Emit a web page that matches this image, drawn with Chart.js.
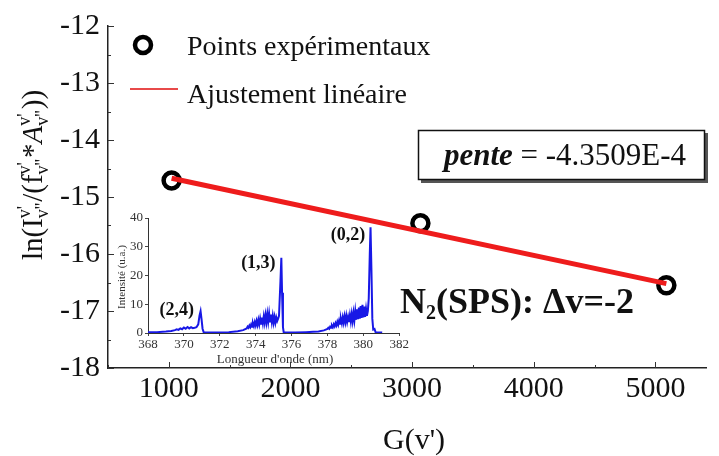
<!DOCTYPE html>
<html><head><meta charset="utf-8">
<script src="https://cdn.jsdelivr.net/npm/chart.js@4.4.1/dist/chart.umd.min.js"></script>
<style>
html,body{margin:0;padding:0;background:#fff;}
#wrap{position:relative;width:719px;height:456px;overflow:hidden;background:#fff;}
#main{position:absolute;left:0;top:0;width:719px;height:456px;}
#inset{position:absolute;left:100px;top:205px;width:310px;height:170px;}
</style></head><body>
<div id="wrap"><canvas id="main" width="719" height="456"></canvas><canvas id="inset" width="310" height="170"></canvas></div>
<script>
// ---- main chart data ----
const gValues = [1023, 3068, 5090];                 // G(v')
const lnValues = [-14.71, -15.46, -16.55];          // ln(I/(f*A))
const fitG = [1023, 5090];
const fitLn = [-14.67, -16.52];
const xTickValues = [500, 1000, 1500, 2000, 2500, 3000, 3500, 4000, 4500, 5000];
const yTickValues = [-18, -17.5, -17, -16.5, -16, -15.5, -15, -14.5, -14, -13.5, -13, -12.5, -12];
const slopeText = '-4.3509E-4';

// ---- inset spectrum data ----
const wavelength = [
  368.0, 368.5, 369.0, 369.3, 369.5, 369.6, 369.7, 369.8, 369.9, 370.0, 370.1, 370.2, 370.3, 370.4, 370.5, 370.6, 370.7, 370.8, 370.87, 370.93, 370.98, 371.04, 371.1,
  371.5, 372.0, 372.5, 373.0, 373.3,
  373.50, 373.55, 373.60, 373.65, 373.70, 373.75, 373.80, 373.85, 373.90, 373.95, 374.00, 374.05, 374.10, 374.15, 374.20, 374.25, 374.30, 374.35,
  374.40, 374.45, 374.50, 374.55, 374.60, 374.65, 374.70, 374.75, 374.80, 374.85, 374.90, 374.95, 375.00, 375.05, 375.10, 375.15, 375.20, 375.25,
  375.30, 375.38, 375.43, 375.47, 375.52, 375.56, 375.7,
  376.2, 376.8, 377.2, 377.5, 377.8,
  378.00, 378.05, 378.10, 378.15, 378.20, 378.25, 378.30, 378.35, 378.40, 378.45, 378.50, 378.55, 378.60, 378.65, 378.70, 378.75,
  378.80, 378.85, 378.90, 378.95, 379.00, 379.05, 379.10, 379.15, 379.20, 379.25, 379.30, 379.35, 379.40, 379.45, 379.50, 379.55,
  379.60, 379.65, 379.70, 379.75, 379.80, 379.85, 379.90, 379.95, 380.00, 380.05, 380.10, 380.15, 380.20, 380.25,
  380.30, 380.36, 380.40, 380.45, 380.50, 380.55, 380.62, 380.68, 381.05
];
const intensity = [
  0.3, 0.3, 0.5, 0.7, 1.0, 1.3, 1.1, 1.6, 1.3, 1.9, 1.5, 2.1, 1.6, 2.0, 1.7, 1.8, 2.0, 3.0, 6.0, 7.6, 5.0, 1.5, 0.3,
  0.2, 0.2, 0.3, 0.6, 1.0,
  1.6, 2.2, 1.8, 2.6, 2.0, 3.0, 2.2, 3.4, 2.4, 3.8, 2.6, 4.2, 2.8, 4.6, 3.0, 5.0, 3.2, 5.4,
  3.4, 5.8, 3.6, 6.2, 3.8, 6.6, 4.0, 6.8, 4.0, 6.4, 3.8, 6.0, 3.6, 5.6, 3.6, 5.4, 4.2, 5.0,
  6.0, 18, 26.2, 14, 2, 0.3, 0.2,
  0.2, 0.3, 0.4, 0.5, 0.9,
  1.4, 1.8, 1.5, 2.2, 1.8, 2.6, 2.0, 3.0, 2.3, 3.4, 2.6, 3.9, 2.9, 4.4, 3.2, 4.9,
  3.4, 5.4, 3.6, 5.8, 3.8, 6.0, 3.9, 5.6, 3.8, 6.2, 4.0, 6.6, 4.2, 7.0, 4.4, 7.6,
  4.6, 8.2, 4.8, 8.8, 5.0, 9.4, 5.2, 9.8, 5.4, 9.2, 5.6, 8.4, 6.0, 7.6,
  12, 28, 36.8, 22, 5, 1.2, 1.4, 0.3, 0.2
];
const insetXTicks = [368, 370, 372, 374, 376, 378, 380, 382];
const insetYTicks = [0, 10, 20, 30, 40];
const bandLabels = ['(2,4)', '(1,3)', '(0,2)'];
const bandLabelWl = [369.6, 374.15, 379.15];
const bandLabelInt = [8.0, 24.4, 33.8];

const SERIF = "'Liberation Serif', 'Times New Roman', serif";

// ---------- main chart ----------
const innerTicks = {
  id: 'innerTicks',
  afterDraw(chart) {
    const {ctx, scales: {x, y}, chartArea: a} = chart;
    ctx.save();
    ctx.strokeStyle = '#333'; ctx.lineWidth = 1;
    xTickValues.forEach(v => {
      const px = Math.round(x.getPixelForValue(v)) + 0.5;
      const len = v % 1000 === 0 ? 6 : 3;
      ctx.beginPath(); ctx.moveTo(px, a.bottom); ctx.lineTo(px, a.bottom - len); ctx.stroke();
    });
    yTickValues.forEach(v => {
      const py = Math.round(y.getPixelForValue(v)) + 0.5;
      const len = Number.isInteger(v) ? 6 : 3;
      ctx.beginPath(); ctx.moveTo(a.left, py); ctx.lineTo(a.left + len, py); ctx.stroke();
    });
    ctx.restore();
  }
};

function drawRich(ctx, segs, cx, baseY) {
  const big = '29px ' + SERIF, small = '18px ' + SERIF;
  let total = 0;
  segs.forEach(s => {
    if (s.t !== undefined) { ctx.font = (s.it ? 'italic ' : '') + big; s.w = ctx.measureText(s.t).width; }
    else { ctx.font = small; s.w = Math.max(ctx.measureText(s.sup).width, ctx.measureText(s.sub).width) + 1; }
    total += s.w;
  });
  let x = cx - total / 2;
  segs.forEach(s => {
    if (s.t !== undefined) { ctx.font = (s.it ? 'italic ' : '') + big; ctx.fillText(s.t, x, baseY); }
    else { ctx.font = small; ctx.fillText(s.sup, x, baseY - 12); ctx.fillText(s.sub, x, baseY + 6); }
    x += s.w;
  });
}

const annotations = {
  id: 'annotations',
  afterDraw(chart) {
    const ctx = chart.ctx;
    const ds = chart.data.datasets;
    ctx.save();
    ctx.fillStyle = '#111';
    ctx.textBaseline = 'alphabetic';
    // legend
    ctx.beginPath(); ctx.lineWidth = 4.5; ctx.strokeStyle = '#000';
    ctx.arc(143, 45, 8, 0, Math.PI * 2); ctx.stroke();
    ctx.beginPath(); ctx.lineWidth = 2; ctx.strokeStyle = '#e84a4a';
    ctx.moveTo(130, 89); ctx.lineTo(178, 89); ctx.stroke();
    ctx.font = '28px ' + SERIF; ctx.textAlign = 'left';
    ctx.fillText(ds[1].label, 187, 55);
    ctx.fillText(ds[0].label, 187, 103);
    // x title
    ctx.textAlign = 'center';
    ctx.font = '30px ' + SERIF;
    ctx.fillText("G(v')", 414, 449);
    // y title (rotated, rich)
    ctx.save();
    ctx.translate(42, 175); ctx.rotate(-Math.PI / 2);
    ctx.textAlign = 'left';
    drawRich(ctx, [
      {t: 'ln(I'}, {sup: "v'", sub: "v''"}, {t: '/(f'}, {sup: "v'", sub: "v''"},
      {t: '*'}, {t: 'A', it: true}, {sup: "v'", sub: "v''"}, {t: '))'}
    ], 0, 0);
    ctx.restore();
    // slope box
    ctx.fillStyle = '#555';
    ctx.fillRect(421, 133, 287, 50);
    ctx.fillStyle = '#fff';
    ctx.fillRect(418, 130, 287, 50);
    ctx.lineWidth = 1.5; ctx.strokeStyle = '#111';
    ctx.strokeRect(418.5, 130.5, 286, 49);
    ctx.fillStyle = '#111';
    ctx.textAlign = 'left';
    ctx.font = 'bold italic 31px ' + SERIF;
    const p = 'pente';
    const pw = ctx.measureText(p).width;
    ctx.font = '31px ' + SERIF;
    const rest = ' = ' + slopeText;
    const rw = ctx.measureText(rest).width;
    let sx = 565 - (pw + rw) / 2;
    ctx.font = 'bold italic 31px ' + SERIF; ctx.fillText(p, sx, 165);
    ctx.font = '31px ' + SERIF; ctx.fillText(rest, sx + pw, 165);
    // N2 label
    let nx = 400;
    ctx.font = 'bold 36px ' + SERIF; ctx.fillText('N', nx, 313); nx += ctx.measureText('N').width;
    ctx.font = 'bold 20px ' + SERIF; ctx.fillText('2', nx, 319); nx += ctx.measureText('2').width;
    ctx.font = 'bold 36px ' + SERIF; ctx.fillText('(SPS): Δv=-2', nx, 313);
    ctx.restore();
  }
};

new Chart(document.getElementById('main'), {
  type: 'scatter',
  data: {
    datasets: [
      {
        label: 'Ajustement linéaire',
        data: fitG.map((g, i) => ({x: g, y: fitLn[i]})),
        showLine: true, borderColor: '#ee1c1c', borderWidth: 5, pointRadius: 0, order: 0
      },
      {
        label: 'Points expérimentaux',
        data: gValues.map((g, i) => ({x: g, y: lnValues[i]})),
        pointRadius: 8, pointBorderWidth: 4.5, pointBorderColor: '#000',
        pointBackgroundColor: 'rgba(0,0,0,0)', order: 1
      }
    ]
  },
  options: {
    responsive: false, animation: false, devicePixelRatio: 1,
    layout: {padding: {top: 20, left: 0, right: 0, bottom: 0}},
    plugins: {legend: {display: false}, tooltip: {enabled: false}},
    scales: {
      x: {
        type: 'linear', min: 500, max: 5420,
        afterBuildTicks: s => { s.ticks = xTickValues.map(v => ({value: v})); },
        afterFit: s => { s.height = 88; },
        border: {color: '#222', width: 1.5},
        grid: {display: false, drawTicks: false},
        ticks: {padding: 3, autoSkip: false, maxRotation: 0, color: '#111',
          font: {family: SERIF, size: 30},
          callback: v => (v % 1000 === 0 ? String(v) : '')}
      },
      y: {
        type: 'linear', min: -18, max: -12,
        afterBuildTicks: s => { s.ticks = yTickValues.map(v => ({value: v})); },
        afterFit: s => { s.width = 108; },
        border: {color: '#222', width: 1.5},
        grid: {display: false, drawTicks: false},
        ticks: {padding: 8, autoSkip: false, color: '#111',
          font: {family: SERIF, size: 30},
          callback: v => (Number.isInteger(v) ? String(v) : '')}
      }
    }
  },
  plugins: [innerTicks, annotations]
});

// ---------- inset chart ----------
const insetText = {
  id: 'insetText',
  afterDraw(chart) {
    const {ctx, scales: {x, y}} = chart;
    ctx.save();
    ctx.fillStyle = '#111';
    ctx.textAlign = 'center'; ctx.textBaseline = 'middle';
    ctx.font = 'bold 18px ' + SERIF;
    bandLabels.forEach((t, i) => ctx.fillText(t, x.getPixelForValue(bandLabelWl[i]), y.getPixelForValue(bandLabelInt[i])));
    ctx.fillStyle = '#333';
    ctx.font = '13px ' + SERIF;
    ctx.fillText("Longueur d'onde (nm)", 175, 155);
    ctx.save();
    ctx.translate(22, 72); ctx.rotate(-Math.PI / 2);
    ctx.font = '11px ' + SERIF;
    ctx.fillText('Intensité (u.a.)', 0, 0);
    ctx.restore();
    ctx.restore();
  }
};

new Chart(document.getElementById('inset'), {
  type: 'scatter',
  data: {
    datasets: [{
      label: 'Spectre',
      data: wavelength.map((w, i) => ({x: w, y: intensity[i]})),
      showLine: true, borderColor: '#1818e6', borderWidth: 2, pointRadius: 0, tension: 0
    }]
  },
  options: {
    responsive: false, animation: false, devicePixelRatio: 1,
    layout: {padding: {top: 13, right: 8, left: 0, bottom: 0}},
    plugins: {legend: {display: false}, tooltip: {enabled: false}},
    scales: {
      x: {
        type: 'linear', min: 368, max: 382,
        afterBuildTicks: s => { s.ticks = insetXTicks.map(v => ({value: v})); },
        afterFit: s => { s.height = 42; },
        border: {color: '#333', width: 1},
        grid: {display: true, drawOnChartArea: false, drawTicks: true, tickLength: 3, color: '#444'},
        ticks: {padding: 1, autoSkip: false, maxRotation: 0, color: '#333', font: {family: SERIF, size: 13}}
      },
      y: {
        type: 'linear', min: 0, max: 40,
        afterBuildTicks: s => { s.ticks = insetYTicks.map(v => ({value: v})); },
        afterFit: s => { s.width = 48; },
        border: {color: '#333', width: 1},
        grid: {display: true, drawOnChartArea: false, drawTicks: true, tickLength: 3, color: '#444'},
        ticks: {padding: 2, autoSkip: false, color: '#333', font: {family: SERIF, size: 13}}
      }
    }
  },
  plugins: [insetText]
});
</script>
</body></html>
